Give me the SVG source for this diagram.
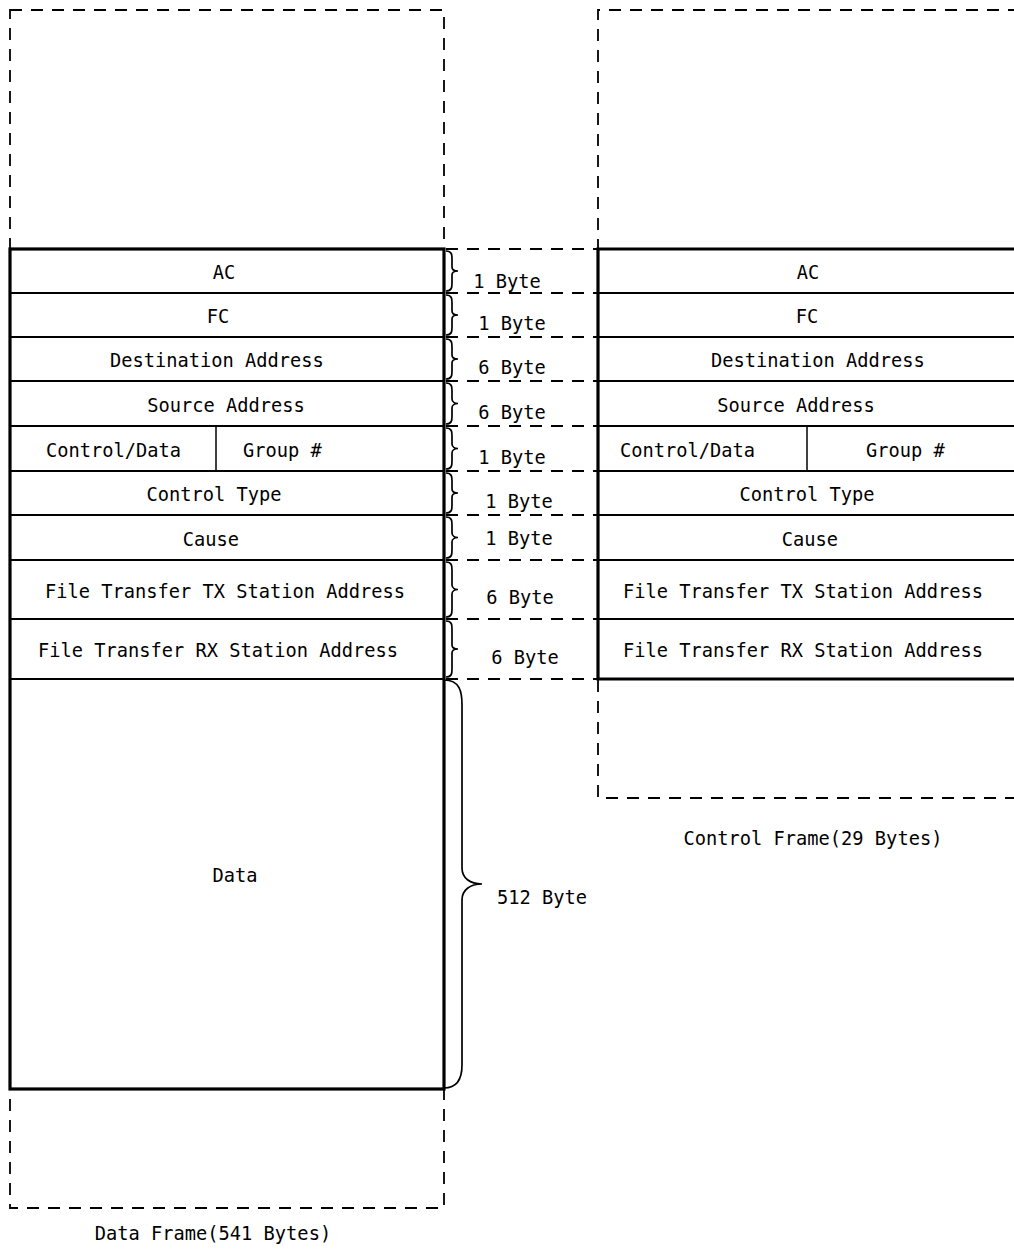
<svg xmlns="http://www.w3.org/2000/svg" width="1014" height="1249" viewBox="0 0 1014 1249">
<style>
text{font-family:"DejaVu Sans Mono","Liberation Mono",monospace;font-size:18.7px;fill:#000;text-anchor:middle;dominant-baseline:central}
.st{text-anchor:start}
.dash{fill:none;stroke:#000;stroke-width:1.8;stroke-dasharray:12 9}
.frame{fill:none;stroke:#000;stroke-width:3.2}
.row{stroke:#000;stroke-width:2.2}
.brace{fill:none;stroke:#000;stroke-width:1.7}
</style>
<rect width="1014" height="1249" fill="#fff"/>
<g id="data-frame">
<rect class="dash" x="10" y="10" width="434" height="1198"/>
<rect class="frame" x="10" y="249" width="434" height="840"/>
<line class="row" x1="10" y1="293" x2="444" y2="293"/>
<line class="row" x1="10" y1="337" x2="444" y2="337"/>
<line class="row" x1="10" y1="381" x2="444" y2="381"/>
<line class="row" x1="10" y1="426" x2="444" y2="426"/>
<line class="row" x1="10" y1="471" x2="444" y2="471"/>
<line class="row" x1="10" y1="515" x2="444" y2="515"/>
<line class="row" x1="10" y1="560" x2="444" y2="560"/>
<line class="row" x1="10" y1="619" x2="444" y2="619"/>
<line class="row" x1="10" y1="679" x2="444" y2="679"/>
<line class="row" x1="216" y1="426" x2="216" y2="471" style="stroke-width:1.5"/>
<text x="224" y="272">AC</text>
<text x="218" y="316">FC</text>
<text x="217" y="360">Destination Address</text>
<text x="226" y="405">Source Address</text>
<text class="st" x="46" y="450">Control/Data</text>
<text class="st" x="243" y="450">Group #</text>
<text x="214" y="494">Control Type</text>
<text x="211" y="539">Cause</text>
<text x="225" y="591">File Transfer TX Station Address</text>
<text x="218" y="650">File Transfer RX Station Address</text>
<text x="235" y="875">Data</text>
<text x="213" y="1233">Data Frame(541 Bytes)</text>
</g>
<g id="control-frame">
<path class="dash" d="M1020,10 H598 V798 H1020"/>
<path class="frame" d="M1020,249 H598 V679 H1020"/>
<line class="row" x1="598" y1="293" x2="1020" y2="293"/>
<line class="row" x1="598" y1="337" x2="1020" y2="337"/>
<line class="row" x1="598" y1="381" x2="1020" y2="381"/>
<line class="row" x1="598" y1="426" x2="1020" y2="426"/>
<line class="row" x1="598" y1="471" x2="1020" y2="471"/>
<line class="row" x1="598" y1="515" x2="1020" y2="515"/>
<line class="row" x1="598" y1="560" x2="1020" y2="560"/>
<line class="row" x1="598" y1="619" x2="1020" y2="619"/>
<line class="row" x1="807" y1="426" x2="807" y2="471" style="stroke-width:1.5"/>
<text x="808" y="272">AC</text>
<text x="807" y="316">FC</text>
<text x="818" y="360">Destination Address</text>
<text x="796" y="405">Source Address</text>
<text class="st" x="620" y="450">Control/Data</text>
<text class="st" x="866" y="450">Group #</text>
<text x="807" y="494">Control Type</text>
<text x="810" y="539">Cause</text>
<text x="803" y="591">File Transfer TX Station Address</text>
<text x="803" y="650">File Transfer RX Station Address</text>
<text x="813" y="838">Control Frame(29 Bytes)</text>
</g>
<g id="connectors">
<line class="dash" x1="446" y1="249" x2="598" y2="249"/>
<line class="dash" x1="446" y1="293" x2="598" y2="293"/>
<line class="dash" x1="446" y1="337" x2="598" y2="337"/>
<line class="dash" x1="446" y1="381" x2="598" y2="381"/>
<line class="dash" x1="446" y1="426" x2="598" y2="426"/>
<line class="dash" x1="446" y1="471" x2="598" y2="471"/>
<line class="dash" x1="446" y1="515" x2="598" y2="515"/>
<line class="dash" x1="446" y1="560" x2="598" y2="560"/>
<line class="dash" x1="446" y1="619" x2="598" y2="619"/>
<line class="dash" x1="446" y1="679" x2="598" y2="679"/>
<path class="brace" d="M446,251 C452,251 452,255 452,259 V267 C452,270 455,271 458,271 C455,271 452,272 452,275 V283 C452,287 452,291 446,291"/>
<path class="brace" d="M446,295 C452,295 452,299 452,303 V311 C452,314 455,315 458,315 C455,315 452,316 452,319 V327 C452,331 452,335 446,335"/>
<path class="brace" d="M446,339 C452,339 452,343 452,347 V355 C452,358 455,359 458,359 C455,359 452,360 452,363 V371 C452,375 452,379 446,379"/>
<path class="brace" d="M446,383 C452,383 452,387 452,391 V399 C452,402 455,403.5 458,403.5 C455,403.5 452,405 452,408 V416 C452,420 452,424 446,424"/>
<path class="brace" d="M446,428 C452,428 452,432 452,436 V444 C452,447 455,448.5 458,448.5 C455,448.5 452,450 452,453 V461 C452,465 452,469 446,469"/>
<path class="brace" d="M446,473 C452,473 452,477 452,481 V489 C452,492 455,493 458,493 C455,493 452,494 452,497 V505 C452,509 452,513 446,513"/>
<path class="brace" d="M446,517 C452,517 452,521 452,525 V533 C452,536 455,537.5 458,537.5 C455,537.5 452,539 452,542 V550 C452,554 452,558 446,558"/>
<path class="brace" d="M446,562 C452,562 452,566 452,570 V585 C452,588 455,589.5 458,589.5 C455,589.5 452,591 452,594 V609 C452,613 452,617 446,617"/>
<path class="brace" d="M446,621 C452,621 452,625 452,629 V645 C452,648 455,649 458,649 C455,649 452,650 452,653 V669 C452,673 452,677 446,677"/>
<path class="brace" d="M444,680 C460,680 462,692 462,705 V868 C462,878 470,884 482,884 C470,884 462,890 462,900 V1065 C462,1080 456,1088 444,1088"/>
<text x="507" y="281">1 Byte</text>
<text x="512" y="323">1 Byte</text>
<text x="512" y="367">6 Byte</text>
<text x="512" y="412">6 Byte</text>
<text x="512" y="457">1 Byte</text>
<text x="519" y="501">1 Byte</text>
<text x="519" y="538">1 Byte</text>
<text x="520" y="597">6 Byte</text>
<text x="525" y="657">6 Byte</text>
<text class="st" x="497" y="897">512 Byte</text>
</g>
</svg>
